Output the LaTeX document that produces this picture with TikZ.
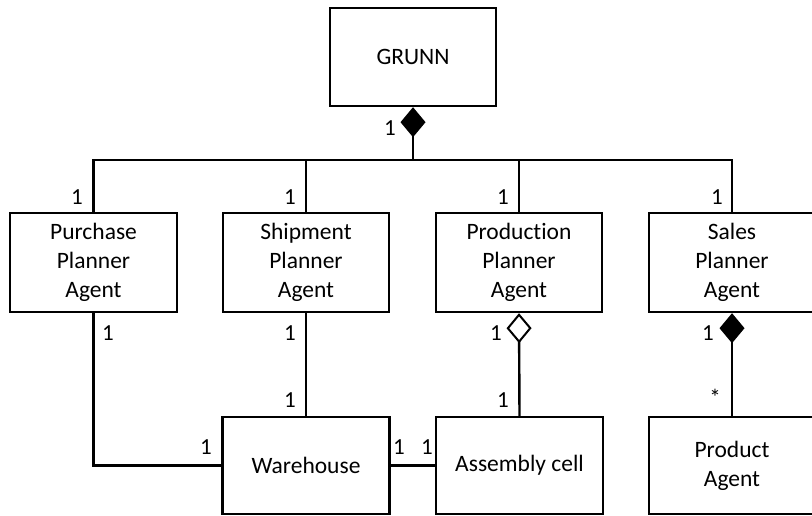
\documentclass[tikz,border=0pt]{standalone}
\usepackage{fontspec}
\setmainfont{Carlito}[Ligatures=NoCommon]
\usetikzlibrary{arrows.meta}
\begin{document}
\begin{tikzpicture}[x=1pt,y=-1pt,
  box/.style={draw, line width=2.4pt, rectangle, align=center, inner sep=0pt,
    font=\fontsize{23.5}{29}\selectfont},
  conn/.style={line width=2.4pt},
  lbl/.style={inner sep=0pt, font=\fontsize{23}{28}\selectfont},
  comp/.style={{Diamond[length=30pt,width=25pt,fill=black,line width=1.6pt]}-},
  aggr/.style={{Diamond[length=30pt,width=25pt,open,fill=white,line width=2pt]}-}]
\useasboundingbox (0,0) rectangle (812,516);
\clip (0,0) rectangle (812,516);
% nodes
\node[box, minimum width=166pt, minimum height=98pt] (g) at (413,57) {GRUNN};
\node[box, minimum width=167pt, minimum height=99pt] (pp) at (93.5,262.5) {Purchase\\Planner\\Agent};
\node[box, minimum width=166pt, minimum height=99pt] (sp) at (306,262.5) {Shipment\\Planner\\Agent};
\node[box, minimum width=166pt, minimum height=99pt] (prp) at (519,262.5) {Production\\Planner\\Agent};
\node[box, minimum width=166pt, minimum height=99pt] (slp) at (732,262.5) {Sales\\Planner\\Agent};
\node[box, minimum width=167pt, minimum height=97pt] (wh) at (306,465.5) {Warehouse};
\node[box, minimum width=167pt, minimum height=97pt] (ac) at (519.5,465.5) {Assembly cell};
\node[box, minimum width=166pt, minimum height=97pt] (pa) at (732,465.5) {Product\\Agent};
\coordinate (j) at (413,160);
% connectors
\draw[conn, comp] (g.south) -- (j);
\draw[conn] (j) -| (pp.north);
\draw[conn] (j) -| (sp.north);
\draw[conn] (j) -| (prp.north);
\draw[conn] (j) -| (slp.north);
\draw[conn] (pp.south) |- (wh.west);
\draw[conn] (sp.south) -- (wh.north);
\draw[conn] (wh.east) -- (ac.west);
\draw[conn, aggr] (prp.south) -- (ac.north);
\draw[conn, comp] (slp.south) -- (pa.north);
% multiplicities
\node[lbl] (m0) at (390,128) {1};
\node[lbl] (m1) at (77,197) {1};
\node[lbl] (m2) at (290,197) {1};
\node[lbl] (m3) at (503,197) {1};
\node[lbl] (m4) at (717,197) {1};
\node[lbl] (m5) at (108,333) {1};
\node[lbl] (m6) at (290,333) {1};
\node[lbl] (m7) at (290,400) {1};
\node[lbl] (m8) at (206,447) {1};
\node[lbl] (m9) at (399,447) {1};
\node[lbl] (m10) at (427,447) {1};
\node[lbl] (m11) at (496,333) {1};
\node[lbl] (m12) at (503,400) {1};
\node[lbl] (m13) at (708,333) {1};
\node[lbl] (m14) at (715,397) {*};
\end{tikzpicture}
\end{document}
